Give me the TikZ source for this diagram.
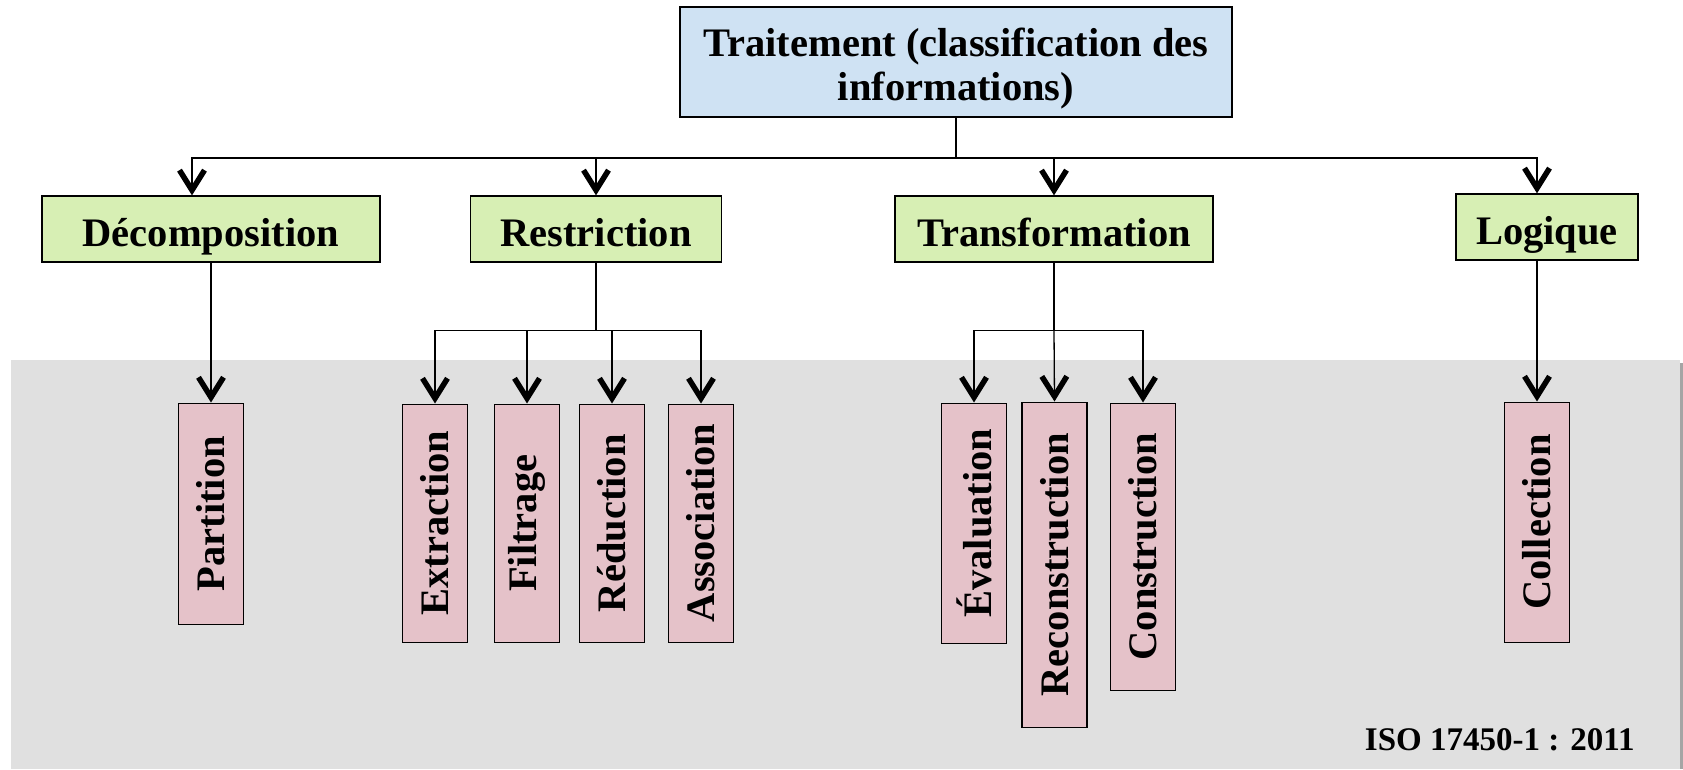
\documentclass[tikz,border=0pt]{standalone}
\usepackage{fontspec}
\setmainfont{Liberation Serif}
\usetikzlibrary{arrows.meta}
\definecolor{topblue}{RGB}{207,226,243}
\definecolor{catgreen}{RGB}{215,239,180}
\definecolor{leafpink}{RGB}{229,194,201}
\definecolor{panelgray}{RGB}{224,224,224}
\definecolor{panelshadow}{RGB}{165,165,165}
\begin{document}
\begin{tikzpicture}[x=1pt,y=-1pt,
  box/.style={draw=black, line width=1.3pt, inner sep=0pt, align=center,
    font=\fontsize{40.5}{44}\selectfont\bfseries},
  head/.style={box, fill=topblue},
  cat/.style={box, fill=catgreen, minimum height=66pt, text height=40pt, text depth=6pt},
  leaf/.style={box, fill=leafpink, minimum width=65pt, anchor=north},
  link/.style={line width=1.3pt, -{Straight Barb[length=20pt,width=25pt,line width=5.5pt]}},
  note/.style={font=\fontsize{33}{33}\selectfont\bfseries}]

% page frame
\useasboundingbox (0,0) rectangle (1683,769);
\fill[white] (0,0) rectangle (1683,769);

% grey panel behind the lower level, with a shadow on its right side
\fill[panelshadow] (1676,363) rectangle (1683.5,769);
\fill[panelgray] (10.7,360) rectangle (1680,769);

% root
\node[head, minimum width=552pt, minimum height=110pt] (top) at (956,62)
  {\rule{0pt}{42pt}Traitement (classification des\\informations)};

% categories
\node[cat, minimum width=338pt] (dec) at (211,229) {Décomposition};
\node[cat, minimum width=251pt] (res) at (596,229) {Restriction};
\node[cat, minimum width=318pt] (tra) at (1054,229) {Transformation};
\node[cat, minimum width=182pt] (log) at (1547,227) {Logique};

% operations
\node[leaf, minimum height=221pt] (part) at (211,402.5) {\rotatebox{90}{Partition}};
\node[leaf, minimum height=238pt] (ext) at (435,403.5) {\rotatebox{90}{Extraction}};
\node[leaf, minimum height=238pt] (fil) at (527,403.5) {\rotatebox{90}{Filtrage}};
\node[leaf, minimum height=238pt] (red) at (612,403.5) {\rotatebox{90}{Réduction}};
\node[leaf, minimum height=238pt] (ass) at (701,403.5) {\rotatebox{90}{Association}};
\node[leaf, minimum height=240pt] (eva) at (974,402.5) {\rotatebox{90}{Évaluation}};
\node[leaf, minimum height=325pt] (rec) at (1054.5,401.5) {\rotatebox{90}{Reconstruction}};
\node[leaf, minimum height=287pt] (con) at (1143,402.5) {\rotatebox{90}{Construction}};
\node[leaf, minimum height=240pt] (col) at (1537,401.5) {\rotatebox{90}{Collection}};

% bus lines
\coordinate (bus) at (956,158);
\coordinate (rbus) at (596,330.6);
\coordinate (tbus) at (1054,330.6);

% root to categories
\draw[link] (top.south) -- (top.south |- bus) -| ([xshift=-19pt]dec.north);
\draw[link] (top.south |- bus) -| (res.north);
\draw[link] (top.south |- bus) -| (tra.north);
\draw[link] (top.south |- bus) -| ([xshift=-10pt]log.north);

% categories to operations
\draw[link] (dec.south) -- (part.north);
\draw[link] (res.south) -- (res.south |- rbus) -| (ext.north);
\draw[link] (res.south |- rbus) -| (fil.north);
\draw[link] (res.south |- rbus) -| (red.north);
\draw[link] (res.south |- rbus) -| (ass.north);
\draw[link] (tra.south) -- (tra.south |- tbus) -| (eva.north);
\draw[link] (tra.south |- tbus) -- (rec.north);
\draw[link] (tra.south |- tbus) -| (con.north);
\draw[link] ([xshift=-10pt]log.south) -- (col.north);

% source
\node[note, anchor=east] (iso) at (1638,740) {ISO 17450-1 : 2011};
\end{tikzpicture}
\end{document}
